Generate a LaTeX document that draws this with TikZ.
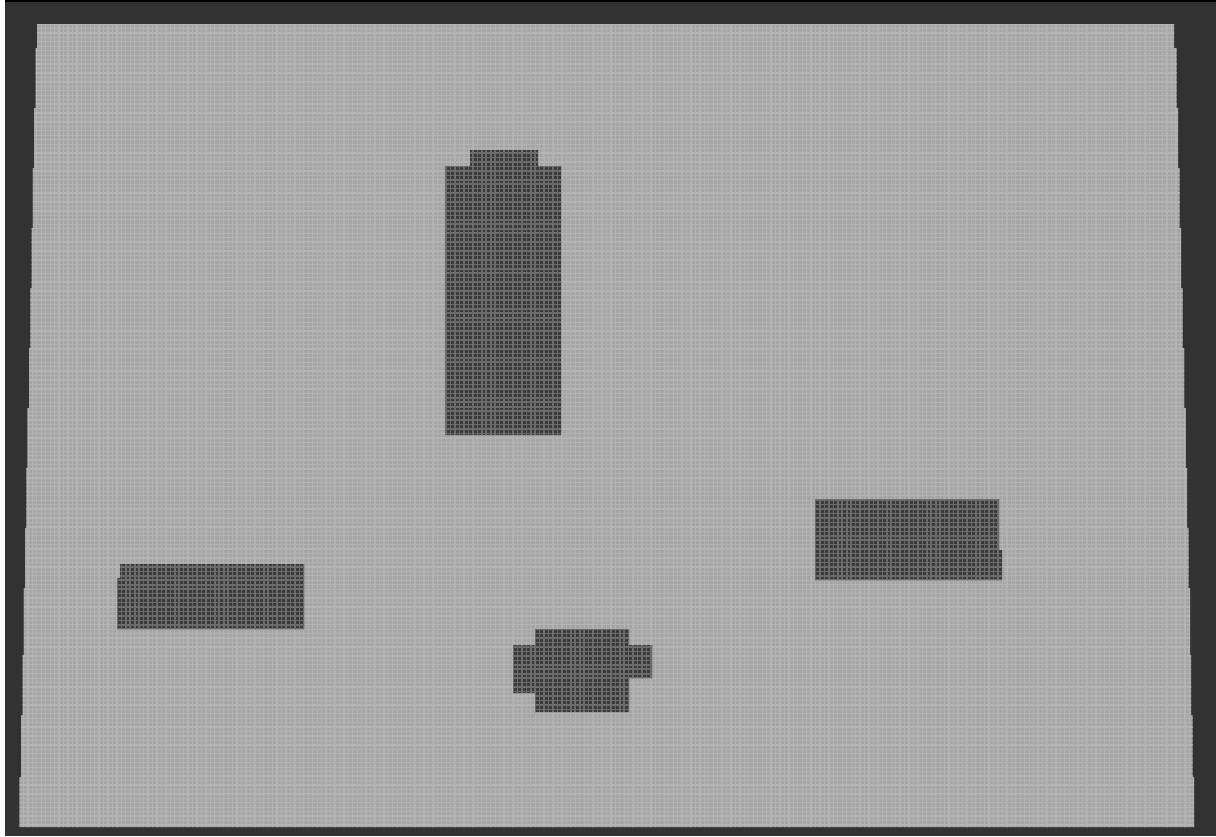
\documentclass[tikz,border=0pt]{standalone}
\definecolor{bgdark}{HTML}{323232}
\definecolor{floorc}{HTML}{A5A5A5}
\definecolor{floorline}{HTML}{B3B3B3}
\definecolor{obst}{HTML}{3A3A3A}
\definecolor{obstline}{HTML}{6C6C6C}
\tikzset{
  floorgrid/.style={draw=floorline, line width=1.3pt},
  obstgrid/.style={draw=obstline, line width=1.6pt},
}
\def\floorpath{(37,24)--(1174,24)--(1174,48)--(1176.5,48)--(1176.5,108)--(1178,108)--(1178,168)--(1179.5,168)--(1179.5,228)--(1181,228)--(1181,288)--(1182.5,288)--(1182.5,348)--(1184,348)--(1184,408)--(1185.5,408)--(1185.5,468)--(1187,468)--(1187,528)--(1188.5,528)--(1188.5,588)--(1190,588)--(1190,655)--(1191,655)--(1191,715)--(1192.5,715)--(1192.5,777)--(1194,777)--(1194,827)--(19.5,827)--(19.5,777)--(21,777)--(21,715)--(22.5,715)--(22.5,655)--(23.8,655)--(23.8,588)--(25.1,588)--(25.1,528)--(26.4,528)--(26.4,468)--(27.7,468)--(27.7,408)--(29,408)--(29,348)--(30.3,348)--(30.3,288)--(31.6,288)--(31.6,228)--(32.9,228)--(32.9,168)--(34.2,168)--(34.2,108)--(35.5,108)--(35.5,48)--(37,48)--cycle}
\def\obsttall{(470,150)--(538,150)--(538,166)--(561,166)--(561,435)--(445,435)--(445,166)--(470,166)--cycle}
\def\obstcenter{(535,629)--(629,629)--(629,645)--(652,645)--(652,678)--(629,678)--(629,712)--(535,712)--(535,693)--(513,693)--(513,645)--(535,645)--cycle}
\def\obstright{(815,499)--(999,499)--(999,550)--(1002,550)--(1002,580)--(815,580)--cycle}
\def\obstleft{(120,564)--(304,564)--(304,629)--(117,629)--(117,578)--(120,578)--cycle}
\begin{document}
\begin{tikzpicture}[x=1pt,y=-1pt]
\useasboundingbox (0,0) rectangle (1216,836);
% background
\fill[bgdark] (0,0) rectangle (1216,836);
\fill[white] (0,0) rectangle (5,836);
\fill[black] (5,0) rectangle (1216,1.5);
% floor
\fill[floorc] \floorpath;
\begin{scope}
  \clip \floorpath;
  \foreach \i in {0,...,265} {
    \draw[floorgrid] (19+\i*4.45,20) -- (19+\i*4.45,830);
  }
  \foreach \j in {0,...,182} {
    \draw[floorgrid] (15,24+\j*4.45) -- (1200,24+\j*4.45);
  }
\end{scope}
% obstacles
\foreach \shp in {\obsttall,\obstcenter,\obstright,\obstleft} {
  \fill[obst] \shp;
  \begin{scope}
    \clip \shp;
    \foreach \i in {0,...,265} {
      \draw[obstgrid] (19+\i*4.45,20) -- (19+\i*4.45,830);
    }
    \foreach \j in {0,...,182} {
      \draw[obstgrid] (15,24+\j*4.45) -- (1200,24+\j*4.45);
    }
  \end{scope}
}
\end{tikzpicture}
\end{document}
